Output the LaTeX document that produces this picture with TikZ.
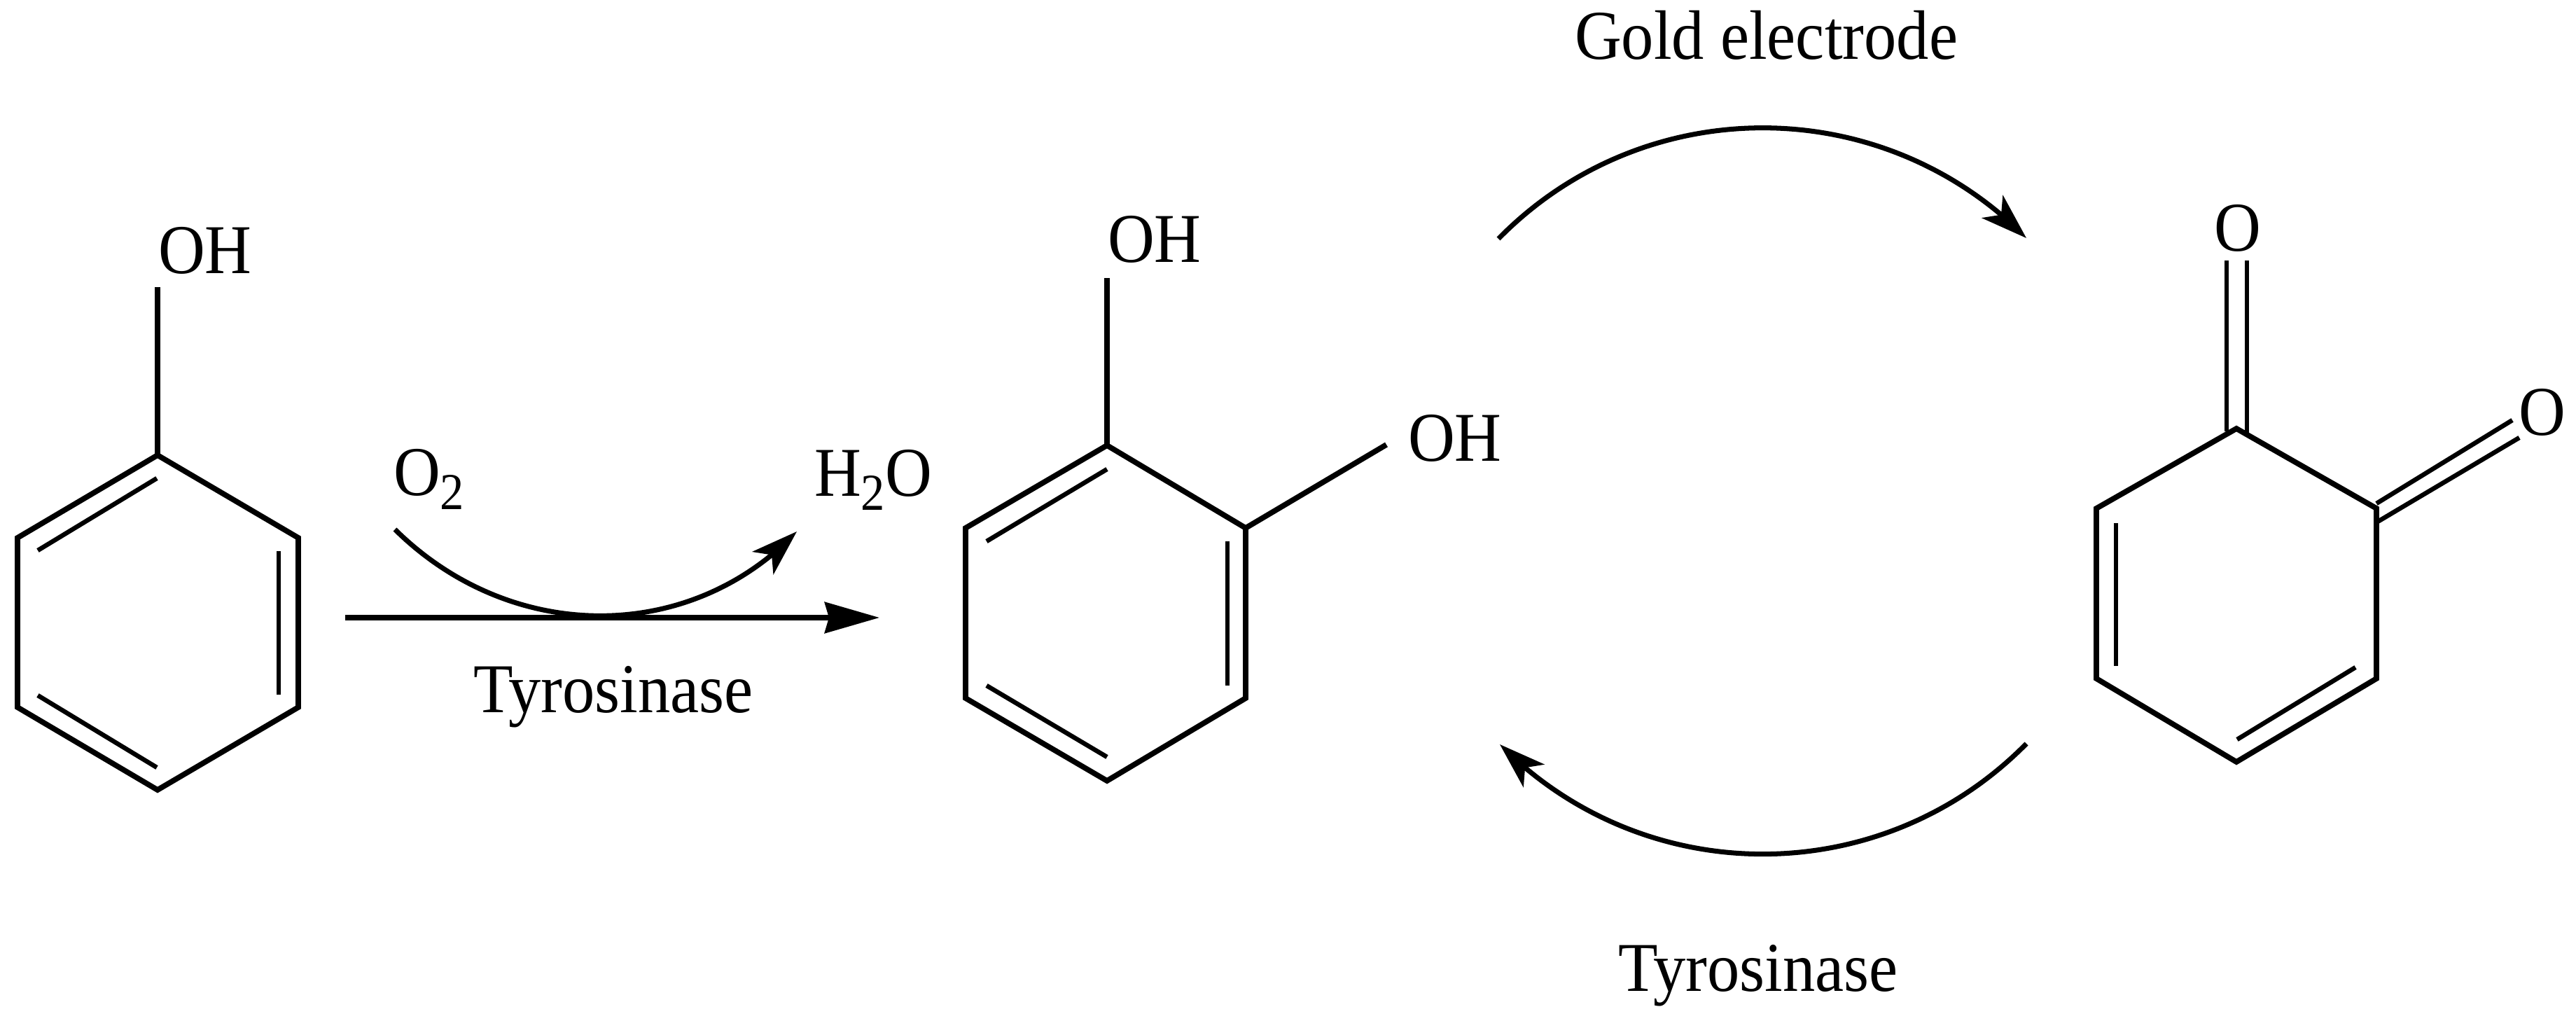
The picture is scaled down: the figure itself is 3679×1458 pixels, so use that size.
\documentclass[tikz,border=0pt]{standalone}
\usepackage{fontspec}
\setmainfont{Liberation Serif}
\usetikzlibrary{arrows.meta,bending}
\newcommand{\chemsub}[1]{\raisebox{-0.19cm}{\fontsize{19.5}{22}\selectfont #1}}
\newcommand{\tx}[1]{\scalebox{1}[1.08]{#1}}
\tikzset{
  lbl/.style={anchor=base west,inner sep=0pt,outer sep=0pt,font=\fontsize{26.3}{30}\selectfont},
  bond/.style={line width=2.2pt,line join=miter},
  innerbond/.style={line width=1.85pt},
  mainarrow/.style={line width=2.1pt,-{Stealth[length=0.78cm,width=0.44cm,inset=0.06cm]}},
  curvearrow/.style={line width=2pt,-{Stealth[length=0.66cm,width=0.44cm,inset=0.17cm,flex]}},
}
\begin{document}
\begin{tikzpicture}[x=0.01cm,y=-0.01cm]
\useasboundingbox (0,0) rectangle (3679,1458);
\fill[white] (0,0) rectangle (3679,1458);

% Labels
\node[lbl] (oh1) at (226,390) {\tx{OH}};
\node[lbl] (o2) at (562,707) {\tx{O\chemsub{2}}};
\node[lbl] (h2o) at (1163,708) {\tx{H\chemsub{2}O}};
\node[lbl] (tyr1) at (676,1017) {\tx{Tyrosinase}};
\node[lbl] (oh2) at (1582,375) {\tx{OH}};
\node[lbl] (oh3) at (2011,658) {\tx{OH}};
\node[lbl] (gold) at (2249,85) {\tx{Gold electrode}};
\node[lbl] (tyr2) at (2311,1415) {\tx{Tyrosinase}};
\node[lbl] (o3) at (3162,359) {\tx{O}};
\node[lbl] (o4) at (3597,621) {\tx{O}};

% Phenol
\coordinate (a1) at (225,650);
\coordinate (a2) at (426,768);
\coordinate (a3) at (426,1010);
\coordinate (a4) at (225,1128);
\coordinate (a5) at (25,1010);
\coordinate (a6) at (25,768);
\coordinate (aO) at (225,410);
\draw[bond] (a1) -- (a2) -- (a3) -- (a4) -- (a5) -- (a6) -- cycle;
\draw[bond] (a1) -- (aO);
\coordinate (ai1) at (54,786);   \coordinate (ai2) at (224,683);
\coordinate (ai3) at (398,787);  \coordinate (ai4) at (398,992);
\coordinate (ai5) at (54,993);   \coordinate (ai6) at (224,1096);
\draw[innerbond] (ai1) -- (ai2);
\draw[innerbond] (ai3) -- (ai4);
\draw[innerbond] (ai5) -- (ai6);

% Catechol
\coordinate (b1) at (1581,636);
\coordinate (b2) at (1779,754);
\coordinate (b3) at (1779,997);
\coordinate (b4) at (1581,1115);
\coordinate (b5) at (1379,997);
\coordinate (b6) at (1379,754);
\coordinate (bO1) at (1581,397);
\coordinate (bO2) at (1980,635);
\draw[bond] (b1) -- (b2) -- (b3) -- (b4) -- (b5) -- (b6) -- cycle;
\draw[bond] (b1) -- (bO1);
\draw[bond] (b2) -- (bO2);
\coordinate (bi1) at (1409,773);  \coordinate (bi2) at (1581,670);
\coordinate (bi3) at (1753,773);  \coordinate (bi4) at (1753,979);
\coordinate (bi5) at (1409,979);  \coordinate (bi6) at (1581,1081);
\draw[innerbond] (bi1) -- (bi2);
\draw[innerbond] (bi3) -- (bi4);
\draw[innerbond] (bi5) -- (bi6);

% o-Quinone
\coordinate (c1) at (3194,612);
\coordinate (c2) at (3394,726);
\coordinate (c3) at (3394,969);
\coordinate (c4) at (3194,1088);
\coordinate (c5) at (2994,969);
\coordinate (c6) at (2994,726);
\draw[bond] (c1) -- (c2) -- (c3) -- (c4) -- (c5) -- (c6) -- cycle;
\coordinate (ci1) at (3022,747);  \coordinate (ci2) at (3022,951);
\coordinate (ci3) at (3195,1056); \coordinate (ci4) at (3364,953);
\draw[innerbond] (ci1) -- (ci2);
\draw[innerbond] (ci3) -- (ci4);
\coordinate (d1a) at (3180,372);  \coordinate (d1b) at (3180,616);
\coordinate (d2a) at (3209,372);  \coordinate (d2b) at (3209,622);
\coordinate (d3a) at (3588,600);  \coordinate (d3b) at (3394,719);
\coordinate (d4a) at (3598,625);  \coordinate (d4b) at (3394,746);
\draw[innerbond] (d1a) -- (d1b);
\draw[innerbond] (d2a) -- (d2b);
\draw[innerbond] (d3a) -- (d3b);
\draw[innerbond] (d4a) -- (d4b);

% Arrows
\coordinate (m1) at (493,882);
\coordinate (m2) at (1256,882);
\draw[mainarrow] (m1) -- (m2);
\coordinate (s1) at (564,756);
\coordinate (s2) at (1138,759);
\draw[curvearrow] (s1) .. controls (730,920) and (985,920) .. (s2);
\coordinate (t1) at (2140,341);
\coordinate (t2) at (2894,340);
\draw[curvearrow] (t1) .. controls (2347,130) and (2687,130) .. (t2);
\coordinate (u1) at (2894,1062);
\coordinate (u2) at (2142,1063);
\draw[curvearrow] (u1) .. controls (2687,1272) and (2349,1272) .. (u2);
\end{tikzpicture}
\end{document}
